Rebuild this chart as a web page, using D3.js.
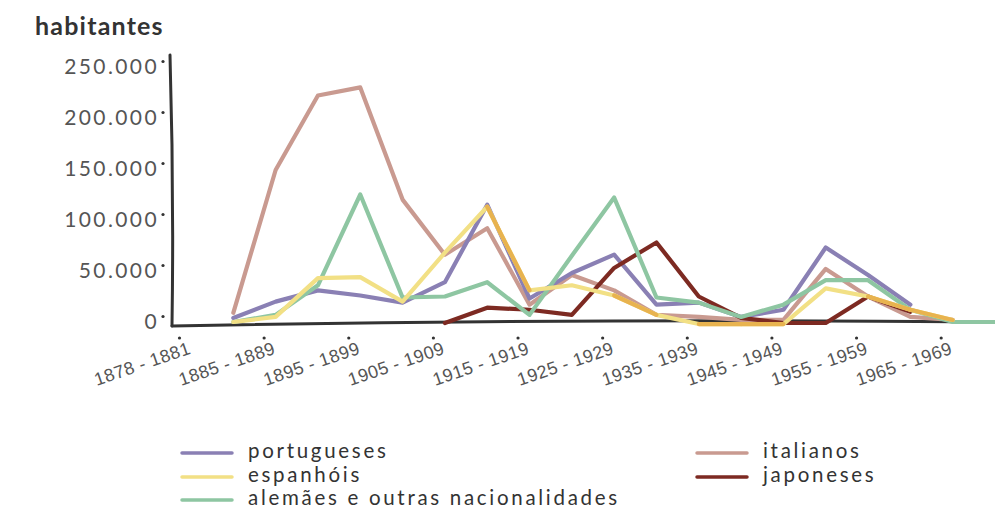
<!DOCTYPE html>
<html>
<head>
<meta charset="utf-8">
<script src="https://cdn.jsdelivr.net/npm/d3@7"></script>
<style>
  body { margin: 0; background: #fff; }
  svg { display: block; font-family: "Lato", "Noto Sans", sans-serif; }
</style>
</head>
<body>
<div id="chart"></div>
<script>
// periods on the x axis (only every other one gets a label)
let periods = ["1878 - 1881", "1882 - 1884", "1885 - 1889", "1890 - 1894", "1895 - 1899",
  "1900 - 1904", "1905 - 1909", "1910 - 1914", "1915 - 1919", "1920 - 1924",
  "1925 - 1929", "1930 - 1934", "1935 - 1939", "1940 - 1944", "1945 - 1949",
  "1950 - 1954", "1955 - 1959", "1960 - 1964", "1965 - 1969", "1970 - 1974"];
let labelled = periods.filter((d, i) => i % 2 === 0);

// values in thousands of people
let portugueses = [null, 4, 20, 31, 26, 19, 39, 115, 23, 48, 66, 17, 19, 5, 12, 73, 46, 17, null, null];
let espanhois = [null, 0, 5, 43, 44, 20, 68, 113, 31, 36, 26, 7, -2, -2, -2, 33, 25, 12, 2, null];
let alemaes = [null, 0, 7, 36, 125, 24, 25, 39, 7, 65, 122, 24, 19, 5, 17, 41, 41, 12, 0, 0];
let italianos = [null, 9, 149, 222, 230, 120, 66, 92, 17, 46, 31, 7, 5, 2, 2, 52, 25, 5, 2, null];
let japoneses = [null, null, null, null, null, null, -1, 14, 12, 7, 53, 78, 25, 4, -1, -1, 25, 10, null, null];

// stretches of the spanish line that were drawn over twice (they look darker)
let espanhoisDoubled = [7, 10, 12, 13, 16, 17];

let yTicks = [0, 50000, 100000, 150000, 200000, 250000];

let series = [
  { name: "italianos", values: italianos, color: "#c99a90" },
  { name: "portugueses", values: portugueses, color: "#8a80b4" },
  { name: "japoneses", values: japoneses, color: "#7d2a22" },
  { name: "alemães e outras nacionalidades", values: alemaes, color: "#8ec6a2" },
  { name: "espanhóis", values: espanhois, color: "#f2e085" }
];

let svgWidth = 995;
let svgHeight = 514;

let svg = d3.select("#chart")
  .append("svg")
  .attr("width", svgWidth)
  .attr("height", svgHeight);

// scales
let x = d3.scalePoint()
  .domain(periods)
  .range([191, 995]);

let y = d3.scaleLinear()
  .domain([0, 250000])
  .range([322, 67]);

// title
svg.append("text")
  .attr("x", 35)
  .attr("y", 35)
  .attr("font-size", 25)
  .attr("font-weight", "bold")
  .attr("letter-spacing", 1.2)
  .attr("fill", "#333")
  .text("habitantes");

// y axis
let yAxis = svg.append("g")
  .attr("transform", "translate(172,0)")
  .call(d3.axisLeft(y)
    .tickValues(yTicks)
    .tickSize(0)
    .tickPadding(13)
    .tickFormat(d => d3.format(",")(d).replace(/,/g, ".")));

yAxis.select(".domain").remove();
yAxis.selectAll("text")
  .attr("font-size", 21)
  .attr("font-family", "Lato, sans-serif")
  .attr("letter-spacing", 2.4)
  .attr("fill", "#555");
yAxis.selectAll(".tick")
  .append("circle")
  .attr("cx", -9)
  .attr("cy", -6)
  .attr("r", 1.6)
  .attr("fill", "#333");

// x axis labels
let xAxis = svg.append("g")
  .attr("transform", "translate(0,322)")
  .call(d3.axisBottom(x)
    .tickValues(labelled)
    .tickSize(0)
    .tickFormat(""));

xAxis.select(".domain").remove();
xAxis.selectAll(".tick")
  .append("circle")
  .attr("cx", -12)
  .attr("cy", 16)
  .attr("r", 1.6)
  .attr("fill", "#333");
xAxis.selectAll(".tick")
  .append("text")
  .attr("transform", "translate(-4,19) rotate(-19)")
  .attr("text-anchor", "end")
  .attr("dy", "0.72em")
  .attr("font-size", 18)
  .attr("letter-spacing", 0.4)
  .attr("fill", "#555")
  .text(d => d);

// hand drawn axis lines (drawn before the lines so the near-zero stretches show)
svg.append("path")
  .attr("d", "M170,55 Q174,190 172,326")
  .attr("fill", "none")
  .attr("stroke", "#333")
  .attr("stroke-width", 3)
  .attr("stroke-linecap", "round");

svg.append("path")
  .attr("d", "M172,326 Q580,318 995,322")
  .attr("fill", "none")
  .attr("stroke", "#333")
  .attr("stroke-width", 3)
  .attr("stroke-linecap", "round");

// lines
let line = d3.line()
  .defined(d => d != null)
  .x((d, i) => x(periods[i]))
  .y(d => y(d * 1000))
  .curve(d3.curveLinear);

let lines = svg.append("g");

lines.selectAll("path")
  .data(series)
  .enter()
  .append("path")
  .attr("d", d => line(d.values))
  .attr("fill", "none")
  .attr("stroke", d => d.color)
  .attr("stroke-width", 4.2)
  .attr("stroke-linejoin", "round")
  .attr("stroke-linecap", "round");

// darker doubled strokes on the spanish line
lines.selectAll("path.doubled")
  .data(espanhoisDoubled)
  .enter()
  .append("path")
  .attr("class", "doubled")
  .attr("d", i => line(espanhois.map((v, j) => (j === i || j === i + 1) ? v : null)))
  .attr("fill", "none")
  .attr("stroke", "#e8b34f")
  .attr("stroke-width", 4.2)
  .attr("stroke-linecap", "round");

// legend
let legendItems = [
  { name: "portugueses", color: "#8a80b4", lx: 182, ly: 453 },
  { name: "espanhóis", color: "#f2e085", lx: 182, ly: 477 },
  { name: "alemães e outras nacionalidades", color: "#8ec6a2", lx: 182, ly: 500 },
  { name: "italianos", color: "#c99a90", lx: 697, ly: 453 },
  { name: "japoneses", color: "#7d2a22", lx: 697, ly: 477 }
];

let legend = svg.append("g")
  .selectAll("g")
  .data(legendItems)
  .enter()
  .append("g")
  .attr("transform", d => `translate(${d.lx},${d.ly})`);

legend.append("line")
  .attr("x1", 0)
  .attr("x2", 50)
  .attr("stroke", d => d.color)
  .attr("stroke-width", 3.5)
  .attr("stroke-linecap", "round");

legend.append("text")
  .attr("x", 66)
  .attr("y", 5)
  .attr("font-size", 20.5)
  .attr("letter-spacing", 2.7)
  .attr("fill", "#333")
  .text(d => d.name);
</script>
</body>
</html>
